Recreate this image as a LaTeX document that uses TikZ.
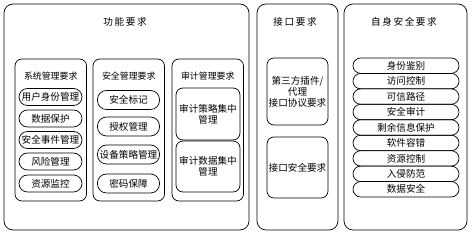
\documentclass[tikz,border=0pt]{standalone}
\usepackage{fontspec}
\newfontfamily\cjk{Noto Sans CJK SC}
\newcommand\tsp{\hspace{1.6pt}}

\begin{document}
\begin{tikzpicture}[x=1pt, y=-1pt, line width=0.7pt, font=\cjk\fontsize{9.6}{11}\selectfont,
  group/.style={draw, rounded corners=9pt},
  column/.style={draw, rounded corners=7pt},
  pill/.style={draw, inner sep=0pt},
  card/.style={draw, rounded corners=7pt, inner sep=0pt, align=center, minimum width=64pt},
  subtitle/.style={font=\cjk\fontsize{8.9}{11}\selectfont}]
% y runs downward, 1pt = 1 px of the 472 x 237 original
\useasboundingbox (0,0) rectangle (472,237);
\draw[group] (4,4) rectangle (249,230);
\draw[group] (257,4) rectangle (338,230);
\draw[group] (344,4) rectangle (467,230);
\node (func) at (125,22) {功\tsp 能\tsp 要\tsp 求};
\node (intf) at (295,22) {接\tsp 口\tsp 要\tsp 求};
\node (self) at (404,22) {自\tsp 身\tsp 安\tsp 全\tsp 要\tsp 求};
\foreach \x/\n/\l in {15/sys/系统管理要求, 93/sec/安全管理要求, 172/aud/审计管理要求}
  { \draw[column] (\x,59) rectangle (\x+71.5,201); \node[subtitle] (\n) at (\x+35.75,76) {\l}; }
\foreach \y/\l [count=\i] in {97/用户身份管理, 118.5/数据保护, 140/安全事件管理, 161.5/风险管理, 183.5/资源监控}
  \node[pill, rounded corners=8.5pt, minimum width=63pt, minimum height=17pt] (sys\i) at (50.5,\y) {\l};
\foreach \y/\l [count=\i] in {100/安全标记, 126.5/授权管理, 154.5/设备策略管理, 183.5/密码保障}
  \node[pill, rounded corners=9pt, minimum width=62pt, minimum height=19pt] (sec\i) at (128.5,\y) {\l};
\node[card, minimum height=52pt] (aud1) at (208,114) {审计策略集中\\管理};
\node[card, minimum height=51pt] (aud2) at (208,166.5) {审计数据集中\\管理};
\node[card, minimum width=61pt, minimum height=67pt] (intf1) at (297.5,91.5) {第三方插件/\\代理\\接口协议要求};
\node[card, minimum width=61pt, minimum height=61pt] (intf2) at (297.5,167.5) {接口安全要求};
\foreach \l [count=\i from 0] in {身份鉴别, 访问控制, 可信路径, 安全审计, 剩余信息保护, 软件容错, 资源控制, 入侵防范, 数据安全}
  \node[pill, rounded corners=7.7pt, minimum width=106pt, minimum height=15.4pt] (self\i) at (406,{65.7+15.45*\i}) {\l};
\end{tikzpicture}
\end{document}
